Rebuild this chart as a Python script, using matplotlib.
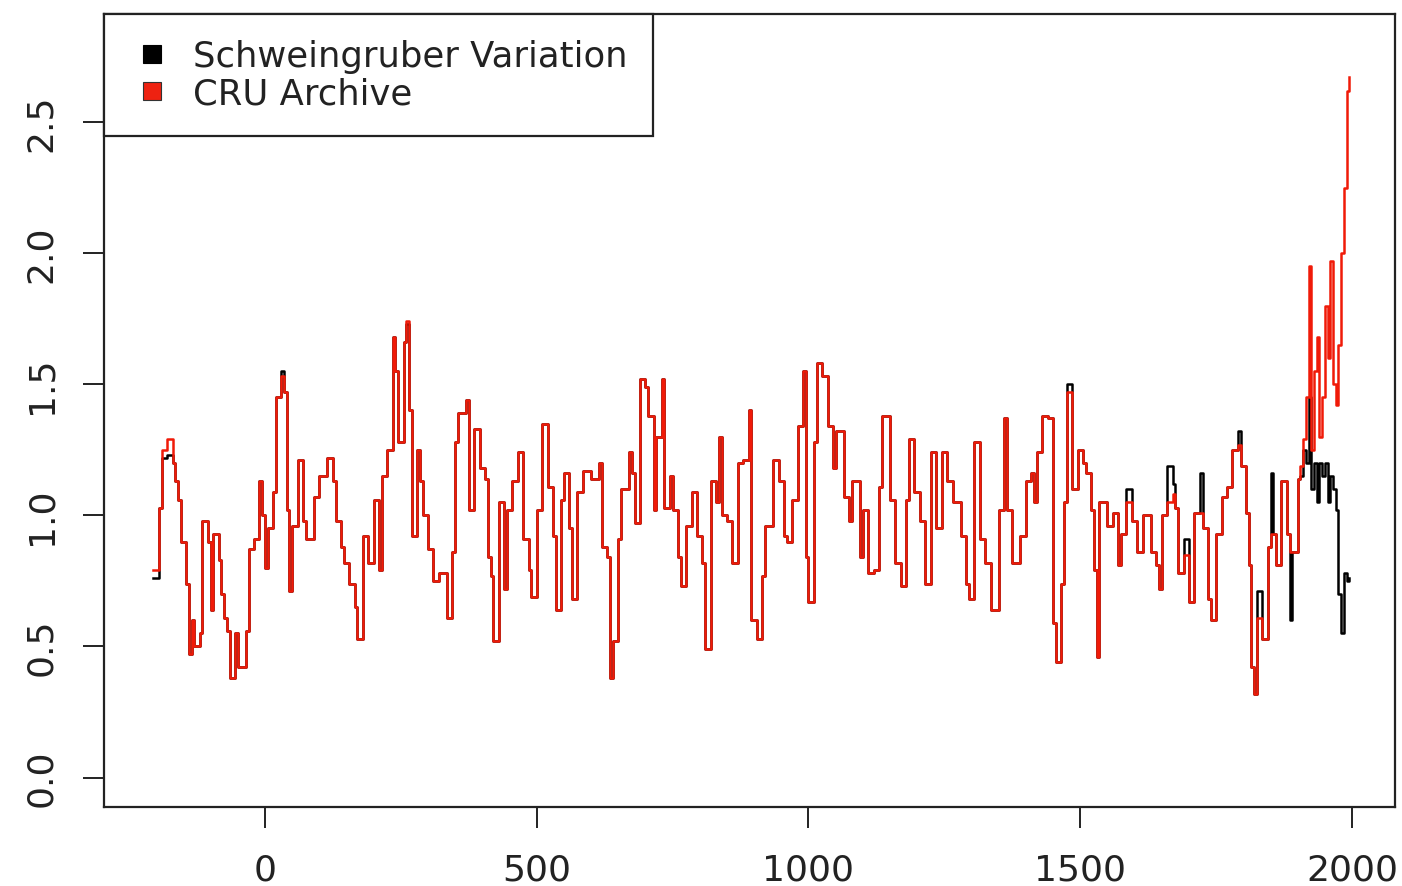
import numpy as np
from matplotlib import pyplot as plt
from matplotlib.lines import Line2D

# values (year -> index value), steps as in R type="s"
years = [-205, -195, -190, -180, -170, -165, -160, -155, -145, -140, -135, -130, -120, -115, -105, -100,
         -95, -85, -80, -75, -70, -65, -55, -50, -40, -35, -30, -20, -10, -5, 0, 5,
         15, 20, 30, 35, 40, 45, 50, 60, 70, 75, 85, 90, 100, 115, 125, 130,
         140, 145, 155, 165, 170, 180, 190, 200, 210, 215, 225, 235, 240, 245, 255, 260,
         265, 270, 280, 285, 290, 300, 310, 320, 330, 335, 345, 350, 355, 370, 375, 385,
         395, 405, 410, 415, 420, 430, 440, 445, 455, 465, 475, 485, 490, 500, 510, 520,
         530, 535, 545, 550, 560, 565, 575, 585, 600, 615, 620, 630, 635, 640, 650, 655,
         665, 670, 675, 680, 690, 700, 705, 715, 720, 730, 735, 745, 750, 760, 765, 775,
         785, 795, 805, 810, 820, 830, 835, 840, 850, 860, 870, 880, 890, 895, 905, 915,
         920, 935, 945, 955, 960, 970, 980, 990, 995, 1000, 1010, 1015, 1025, 1035, 1045, 1050,
         1065, 1075, 1080, 1095, 1100, 1110, 1120, 1130, 1135, 1145, 1150, 1160, 1170, 1180, 1185, 1195,
         1205, 1215, 1225, 1235, 1245, 1255, 1265, 1280, 1290, 1295, 1305, 1315, 1325, 1335, 1345, 1350,
         1360, 1365, 1375, 1390, 1400, 1410, 1415, 1420, 1430, 1440, 1450, 1455, 1465, 1470, 1475, 1485,
         1495, 1505, 1510, 1520, 1525, 1530, 1535, 1550, 1560, 1570, 1575, 1585, 1595, 1605, 1615, 1630,
         1640, 1645, 1650, 1660, 1670, 1675, 1680, 1690, 1700, 1710, 1720, 1725, 1735, 1740, 1750, 1760,
         1770, 1780, 1790, 1795, 1805, 1810, 1815, 1820, 1825, 1835, 1845, 1850, 1855, 1860, 1870, 1880,
         1885, 1890, 1900, 1905, 1910, 1915, 1920, 1925, 1930, 1935, 1940, 1945, 1950, 1955, 1960, 1965,
         1970, 1975, 1980, 1985, 1990, 1995]

cru = [0.79, 1.03, 1.25, 1.29, 1.20, 1.13, 1.06, 0.90, 0.74, 0.47, 0.60, 0.50, 0.55, 0.98, 0.90, 0.64,
       0.93, 0.83, 0.70, 0.61, 0.56, 0.38, 0.55, 0.42, 0.42, 0.56, 0.87, 0.91, 1.13, 1.00, 0.80, 0.95,
       1.09, 1.45, 1.53, 1.47, 1.02, 0.71, 0.96, 1.21, 0.98, 0.91, 0.91, 1.07, 1.15, 1.22, 1.13, 0.98,
       0.88, 0.82, 0.74, 0.65, 0.53, 0.92, 0.82, 1.06, 0.79, 1.15, 1.25, 1.68, 1.55, 1.28, 1.66, 1.74,
       1.40, 0.92, 1.25, 1.13, 1.00, 0.87, 0.75, 0.78, 0.78, 0.61, 0.86, 1.28, 1.39, 1.44, 1.02, 1.33,
       1.18, 1.14, 0.84, 0.77, 0.52, 1.05, 0.72, 1.02, 1.13, 1.24, 0.91, 0.79, 0.69, 1.02, 1.35, 1.11,
       0.92, 0.64, 1.06, 1.16, 0.95, 0.68, 1.09, 1.17, 1.14, 1.20, 0.88, 0.84, 0.38, 0.52, 0.91, 1.10,
       1.10, 1.24, 1.16, 0.97, 1.52, 1.49, 1.38, 1.02, 1.30, 1.52, 1.03, 1.15, 1.02, 0.84, 0.73, 0.96,
       1.09, 0.92, 0.82, 0.49, 1.13, 1.05, 1.30, 1.00, 0.98, 0.82, 1.20, 1.21, 1.40, 0.60, 0.53, 0.77,
       0.96, 1.21, 1.13, 0.92, 0.90, 1.06, 1.34, 1.55, 0.84, 0.67, 1.28, 1.58, 1.53, 1.34, 1.18, 1.32,
       1.07, 0.98, 1.13, 0.84, 1.02, 0.78, 0.79, 1.11, 1.38, 1.38, 1.06, 0.82, 0.73, 1.06, 1.29, 1.09,
       0.98, 0.74, 1.24, 0.95, 1.24, 1.13, 1.05, 0.92, 0.74, 0.68, 1.28, 0.91, 0.82, 0.64, 0.64, 1.02,
       1.37, 1.02, 0.82, 0.92, 1.13, 1.16, 1.05, 1.24, 1.38, 1.37, 0.59, 0.44, 0.74, 1.05, 1.47, 1.10,
       1.25, 1.20, 1.16, 1.02, 0.79, 0.46, 1.05, 0.96, 1.01, 0.81, 0.93, 1.05, 0.98, 0.86, 1.00, 0.86,
       0.81, 0.72, 1.00, 1.05, 1.08, 1.03, 0.78, 0.85, 0.67, 1.01, 1.01, 0.95, 0.68, 0.60, 0.93, 1.07,
       1.11, 1.25, 1.27, 1.19, 1.01, 0.81, 0.42, 0.32, 0.61, 0.53, 0.88, 0.93, 0.93, 0.81, 1.13, 0.93,
       0.86, 0.86, 1.14, 1.19, 1.29, 1.45, 1.95, 1.25, 1.55, 1.68, 1.30, 1.45, 1.80, 1.60, 1.97, 1.50,
       1.42, 1.65, 2.00, 2.25, 2.62, 2.67]

schweingruber = [0.76, 1.03, 1.22, 1.23, 1.20, 1.13, 1.06, 0.90, 0.74, 0.47, 0.60, 0.50, 0.55, 0.98, 0.90, 0.64,
                 0.93, 0.83, 0.70, 0.61, 0.56, 0.38, 0.55, 0.42, 0.42, 0.56, 0.87, 0.91, 1.13, 1.00, 0.80, 0.95,
                 1.09, 1.45, 1.55, 1.47, 1.02, 0.71, 0.96, 1.21, 0.98, 0.91, 0.91, 1.07, 1.15, 1.22, 1.13, 0.98,
                 0.88, 0.82, 0.74, 0.65, 0.53, 0.92, 0.82, 1.06, 0.79, 1.15, 1.25, 1.68, 1.55, 1.28, 1.66, 1.73,
                 1.40, 0.92, 1.25, 1.13, 1.00, 0.87, 0.75, 0.78, 0.78, 0.61, 0.86, 1.28, 1.39, 1.44, 1.02, 1.33,
                 1.18, 1.14, 0.84, 0.77, 0.52, 1.05, 0.72, 1.02, 1.13, 1.24, 0.91, 0.79, 0.69, 1.02, 1.35, 1.11,
                 0.92, 0.64, 1.06, 1.16, 0.95, 0.68, 1.09, 1.17, 1.14, 1.20, 0.88, 0.84, 0.38, 0.52, 0.91, 1.10,
                 1.10, 1.24, 1.16, 0.97, 1.52, 1.49, 1.38, 1.02, 1.30, 1.52, 1.03, 1.15, 1.02, 0.84, 0.73, 0.96,
                 1.09, 0.92, 0.82, 0.49, 1.13, 1.05, 1.30, 1.00, 0.98, 0.82, 1.20, 1.21, 1.40, 0.60, 0.53, 0.77,
                 0.96, 1.21, 1.13, 0.92, 0.90, 1.06, 1.34, 1.55, 0.84, 0.67, 1.28, 1.58, 1.53, 1.34, 1.18, 1.32,
                 1.07, 0.98, 1.13, 0.84, 1.02, 0.78, 0.79, 1.11, 1.38, 1.38, 1.06, 0.82, 0.73, 1.06, 1.29, 1.09,
                 0.98, 0.74, 1.24, 0.95, 1.24, 1.13, 1.05, 0.92, 0.74, 0.68, 1.28, 0.91, 0.82, 0.64, 0.64, 1.02,
                 1.37, 1.02, 0.82, 0.92, 1.13, 1.16, 1.05, 1.24, 1.38, 1.37, 0.59, 0.44, 0.74, 1.05, 1.50, 1.10,
                 1.25, 1.20, 1.16, 1.02, 0.79, 0.46, 1.05, 0.96, 1.01, 0.81, 0.93, 1.10, 0.98, 0.86, 1.00, 0.86,
                 0.81, 0.72, 1.00, 1.19, 1.12, 1.03, 0.78, 0.91, 0.67, 1.01, 1.16, 0.95, 0.68, 0.60, 0.93, 1.07,
                 1.11, 1.25, 1.32, 1.19, 1.01, 0.81, 0.42, 0.32, 0.71, 0.53, 0.88, 1.16, 0.93, 0.81, 1.13, 0.93,
                 0.60, 0.86, 1.14, 1.15, 1.25, 1.20, 1.45, 1.10, 1.20, 1.05, 1.20, 1.15, 1.20, 1.05, 1.15, 1.10,
                 1.02, 0.70, 0.55, 0.78, 0.75, 0.76]

xticks = [0, 500, 1000, 1500, 2000]
yticks = [0.0, 0.5, 1.0, 1.5, 2.0, 2.5]

fig = plt.figure(figsize=(14.02, 8.87), dpi=100)
ax = fig.add_axes([0.0742, 0.0891, 0.9208, 0.894])

ax.step(years, schweingruber, where='post', color='black', linewidth=1.8, zorder=2)
ax.step(years, cru, where='post', color='#f01a08', linewidth=1.8, zorder=3)

ax.set_xlim(-296, 2079)
ax.set_ylim(-0.112, 2.912)

ax.set_xticks(xticks)
ax.set_xticklabels([str(t) for t in xticks])
ax.set_yticks(yticks)
ax.set_yticklabels([f"{t:.1f}" for t in yticks], rotation=90, va='center')
ax.tick_params(axis='both', direction='out', length=15, width=1.4, labelsize=26, colors='#222222')
ax.tick_params(axis='x', pad=18)
ax.tick_params(axis='y', pad=18)

for sp in ax.spines.values():
    sp.set_linewidth(1.6)
    sp.set_color('#222222')

# R-style filled-box keys
handles = [Line2D([], [], ls='', marker='s', markersize=13, markerfacecolor='black',
                  markeredgecolor='black', markeredgewidth=0.8),
           Line2D([], [], ls='', marker='s', markersize=13, markerfacecolor='#ee2211',
                  markeredgecolor='#333333', markeredgewidth=0.8)]
labels = ['Schweingruber Variation', 'CRU Archive']
leg = ax.legend(handles, labels, loc='upper left', bbox_to_anchor=(0, 1), borderaxespad=0,
                fontsize=25.5, fancybox=False, framealpha=1, edgecolor='#222222',
                handlelength=1.25, handletextpad=0.55, labelspacing=0.08,
                borderpad=0.72)
leg.get_frame().set_linewidth(1.6)
for t in leg.get_texts():
    t.set_color('#222222')

fig.savefig('out.png', dpi=100, facecolor='white')
